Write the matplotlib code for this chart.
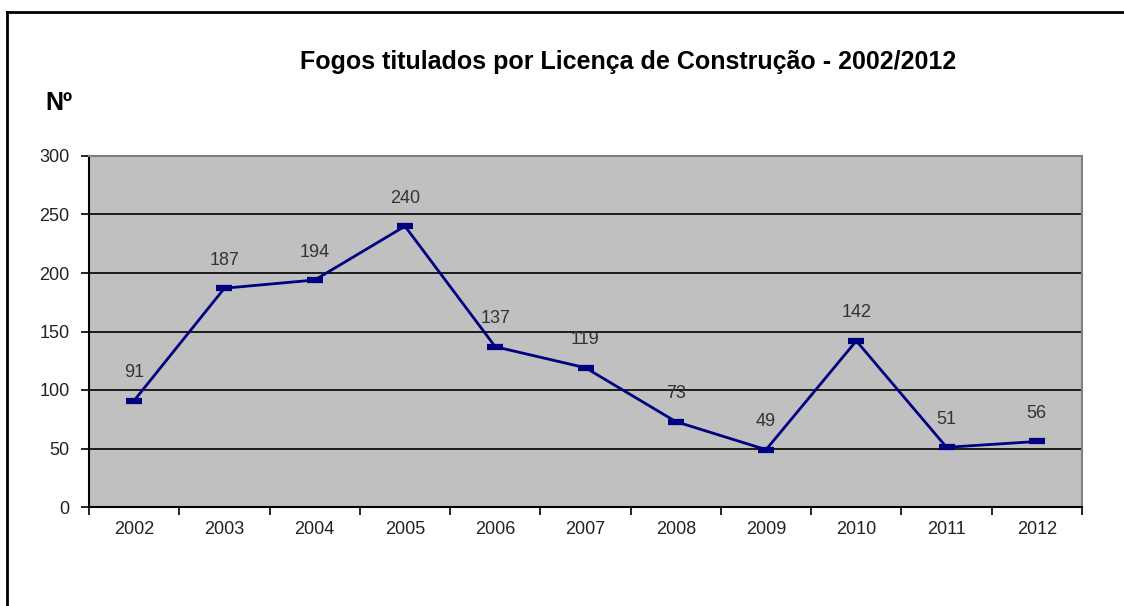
import matplotlib
matplotlib.use("Agg")
import matplotlib.pyplot as plt
from matplotlib.lines import Line2D

# Data
years = ["2002", "2003", "2004", "2005", "2006", "2007", "2008", "2009", "2010", "2011", "2012"]
fogos = [91, 187, 194, 240, 137, 119, 73, 49, 142, 51, 56]
y_ticks = [0, 50, 100, 150, 200, 250, 300]

plt.rcParams['font.family'] = ['Liberation Sans', 'DejaVu Sans']

fig = plt.figure(figsize=(11.24, 6.06), dpi=100)
ax = fig.add_axes([89 / 1124, 99 / 606, 993 / 1124, 351 / 606])
ax.set_facecolor("#c0c0c0")

x = list(range(len(years)))
ax.plot(x, fogos, color="#000080", lw=2, marker="_", markersize=12,
        markeredgewidth=4.5, zorder=3)

for xi, v in zip(x, fogos):
    ax.annotate(str(v), (xi, v), xytext=(0, 14), textcoords="offset points",
                ha="center", va="bottom", fontsize=13, color="#333333")

ax.set_xlim(-0.5, len(years) - 0.5)
ax.set_ylim(0, 300)
ax.set_yticks(y_ticks)
ax.set_yticklabels([str(t) for t in y_ticks], fontsize=13, color="#222222")
ax.set_xticks(x)
ax.set_xticklabels(years, fontsize=13, color="#222222")
ax.set_xticks([i - 0.5 for i in range(len(years) + 1)], minor=True)
ax.tick_params(axis="x", which="major", length=0, pad=10)
ax.tick_params(axis="x", which="minor", length=6, width=1.2, direction="out")
ax.tick_params(axis="y", length=6, width=1.2, direction="out", pad=8)

ax.yaxis.grid(True, color="black", lw=1.2)
ax.set_axisbelow(True)
for side in ["left", "bottom"]:
    ax.spines[side].set_color("black")
    ax.spines[side].set_linewidth(1.5)
for side in ["top", "right"]:
    ax.spines[side].set_color("#808080")
    ax.spines[side].set_linewidth(1.5)

fig.text(628 / 1124, 1 - 62 / 606, "Fogos titulados por Licença de Construção - 2002/2012",
         ha="center", va="center", fontsize=18, fontweight="bold")
fig.text(45 / 1124, 1 - 103 / 606, "Nº", ha="left", va="center",
         fontsize=18, fontweight="bold")

# outer frame (top and left edges visible)
fig.add_artist(Line2D([7 / 1124, 7 / 1124], [0, 1 - 12 / 606], color="black", lw=2,
                      transform=fig.transFigure))
fig.add_artist(Line2D([7 / 1124, 1], [1 - 12 / 606, 1 - 12 / 606], color="black", lw=2,
                      transform=fig.transFigure))

fig.savefig("out.png", dpi=100)
